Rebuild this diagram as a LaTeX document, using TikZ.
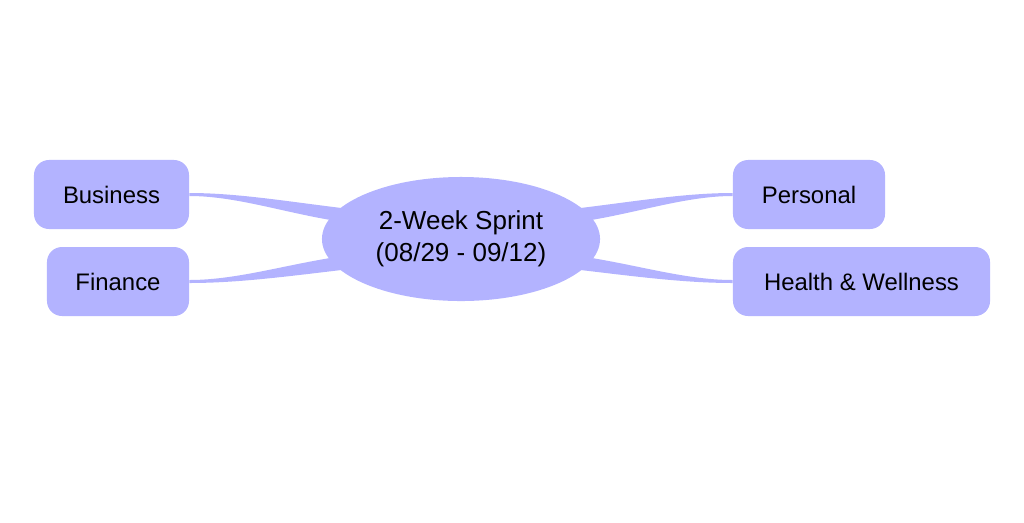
\documentclass[tikz,border=0pt]{standalone}
\usepackage{fontspec}
\setmainfont{Liberation Sans}
\usetikzlibrary{shapes.geometric,backgrounds,calc}

\definecolor{mindfill}{HTML}{B3B3FF}

\tikzset{
  topic/.style={fill=mindfill, rounded corners=0.375cm, minimum height=1.725cm,
    inner sep=0pt, font=\fontsize{17}{21}\selectfont},
  hubnode/.style={ellipse, fill=mindfill, minimum width=6.95cm, minimum height=3.1cm,
    inner sep=0pt, align=center, font=\fontsize{18.5}{23}\selectfont},
  branch/.style={fill=mindfill}
}

\begin{document}
\begin{tikzpicture}[x=0.025cm, y=-0.025cm]
\useasboundingbox (0,0) rectangle (1024,522);

\node[hubnode] (hub) at (461,239) {2-Week Sprint\\(08/29 - 09/12)};

\node[topic, minimum width=3.875cm] (biz) at (111.5,194.5) {Business};
\node[topic, minimum width=3.55cm] (fin) at (118,281.5) {Finance};
\node[topic, minimum width=3.8cm] (pers) at (809,194.5) {Personal};
\node[topic, minimum width=6.425cm] (hw) at (861.5,281.5) {Health \& Wellness};

% tapered branches, thick at the hub
\begin{scope}[on background layer]
\foreach \leaf/\side/\sx/\sy in {biz/east/-1/-1, fin/east/-1/1, pers/west/1/-1, hw/west/1/1}
  \fill[branch] ($(\leaf.\side)+(0,{\sy*1.5})$)
    .. controls +({\sx*(-50)},0) and +({\sx*60},{\sy*7}) .. ($(hub)+({\sx*111},{\sy*30})$)
    -- ($(hub)+({\sx*111},{\sy*16})$)
    .. controls +({\sx*60},{\sy*8}) and +({\sx*(-50)},0) .. ($(\leaf.\side)+(0,{\sy*(-1.5)})$)
    -- cycle;
\end{scope}
\end{tikzpicture}
\end{document}
